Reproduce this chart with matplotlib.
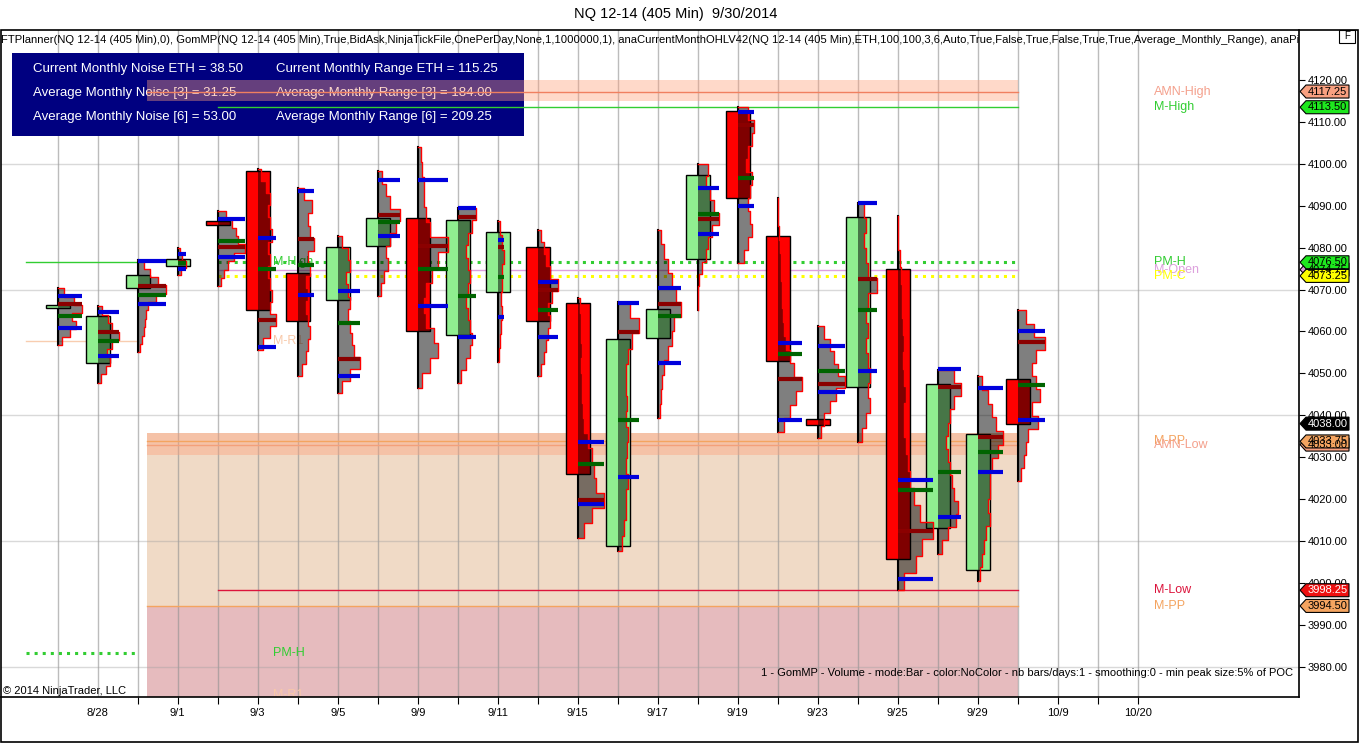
import numpy as np
import matplotlib
matplotlib.use('Agg')
import matplotlib.pyplot as plt
from matplotlib.patches import Rectangle, Polygon
from matplotlib.transforms import blended_transform_factory

plt.rcParams['font.family'] = ['Liberation Sans', 'DejaVu Sans']

# ---------------- data ----------------
bar_dates = ['8/27', '8/28', '8/29', '9/1', '9/2', '9/3', '9/4', '9/5', '9/8', '9/9',
             '9/10', '9/11', '9/12', '9/15', '9/16', '9/17', '9/18', '9/19', '9/22',
             '9/23', '9/24', '9/25', '9/26', '9/29', '9/30']
axis_labels = ['8/28', '9/1', '9/3', '9/5', '9/9', '9/11', '9/15', '9/17', '9/19',
               '9/23', '9/25', '9/29', '10/9', '10/20']

opens = [4065.50, 4052.50, 4070.25, 4075.50, 4086.25, 4098.25, 4074.00, 4067.50, 4080.50,
         4087.00, 4059.25, 4069.50, 4080.25, 4066.75, 4008.75, 4058.50, 4077.25, 4112.50,
         4082.75, 4039.00, 4046.75, 4075.00, 4013.00, 4003.00, 4048.75]
highs = [4070.25, 4066.00, 4077.00, 4080.00, 4088.75, 4098.75, 4094.25, 4082.75, 4098.25,
         4104.00, 4089.50, 4086.25, 4084.25, 4068.00, 4067.00, 4084.25, 4100.00, 4113.50,
         4091.75, 4061.25, 4090.75, 4087.50, 4050.75, 4049.25, 4065.00]
lows = [4056.75, 4047.75, 4055.00, 4073.50, 4070.75, 4055.50, 4049.25, 4045.25, 4068.50,
        4046.50, 4047.75, 4052.75, 4049.25, 4010.75, 4007.50, 4039.25, 4065.00, 4076.25,
        4036.00, 4034.50, 4033.50, 3998.25, 4007.00, 4000.50, 4024.25]
closes = [4066.00, 4063.75, 4073.50, 4077.25, 4085.50, 4065.00, 4062.50, 4080.25, 4087.00,
          4060.00, 4086.50, 4083.75, 4062.50, 4026.00, 4058.25, 4065.25, 4097.25, 4091.75,
          4053.00, 4037.75, 4087.25, 4005.75, 4047.50, 4035.50, 4038.00]

# GomMP marks: value area high / low (blue), POC (dark red), green mark
va_high = [4068.50, 4064.75, 4076.75, 4078.50, 4086.75, 4082.25, 4093.50, 4069.75, 4096.25,
           4096.25, 4089.50, 4081.75, 4071.75, 4033.50, 4066.75, 4070.25, 4094.25, 4112.25,
           4057.25, 4056.50, 4090.75, 4024.50, 4051.00, 4046.50, 4060.00]
va_low = [4060.75, 4054.25, 4066.50, 4075.00, 4077.75, 4056.25, 4068.75, 4049.25, 4082.75,
          4066.00, 4058.75, 4063.50, 4058.75, 4018.75, 4025.25, 4052.50, 4083.25, 4090.00,
          4038.75, 4045.50, 4050.50, 4001.00, 4015.75, 4026.50, 4038.75]
poc = [4066.50, 4059.75, 4070.75, 4076.50, 4080.25, 4062.75, 4082.00, 4053.50, 4087.75,
       4080.50, 4087.25, 4080.25, 4070.00, 4019.75, 4059.75, 4066.50, 4086.75, 4109.25,
       4048.75, 4047.50, 4072.50, 4012.50, 4046.75, 4034.75, 4057.50]
green_mark = [4063.75, 4057.75, 4068.75, 4076.25, 4081.50, 4075.00, 4075.75, 4062.00, 4086.00,
              4075.00, 4068.50, 4073.00, 4065.00, 4028.25, 4038.75, 4063.75, 4088.00, 4096.50,
              4054.50, 4050.50, 4065.00, 4022.25, 4026.50, 4031.25, 4047.25]

# volume per price band, high -> low (relative units)
profiles = [
    [6, 16, 24, 14, 18, 12, 4],
    [4, 10, 14, 21, 14, 9, 12, 8, 3],
    [6, 12, 20, 28, 18, 10, 8, 7, 6, 4, 2],
    [2, 4, 8, 3],
    [8, 14, 18, 20, 27, 16, 10, 6, 3],
    [3, 8, 12, 10, 12, 14, 10, 12, 10, 12, 14, 12, 18, 12, 5],
    [6, 14, 10, 12, 16, 10, 12, 8, 10, 8, 10, 12, 10, 8, 4],
    [4, 10, 12, 8, 10, 12, 10, 12, 14, 16, 22, 12, 4],
    [4, 8, 12, 22, 18, 12, 8, 10, 6, 3],
    [3, 4, 6, 6, 8, 12, 30, 20, 14, 8, 6, 8, 16, 20, 12, 4],
    [18, 14, 10, 8, 10, 12, 10, 8, 10, 12, 14, 12, 8, 3],
    [2, 4, 6, 4, 4, 3, 4, 3, 2, 1],
    [3, 6, 8, 12, 20, 14, 10, 12, 10, 8, 6, 3],
    [2, 3, 3, 4, 3, 4, 4, 5, 6, 10, 14, 16, 18, 26, 14, 6],
    [12, 21, 14, 10, 8, 8, 9, 8, 10, 9, 8, 10, 8, 8, 6, 4],
    [3, 6, 10, 14, 18, 23, 16, 14, 10, 6, 4, 3, 2],
    [10, 8, 12, 16, 21, 14, 10, 8, 4, 1, 0, 0],
    [10, 16, 14, 10, 8, 14, 12, 10, 12, 14, 10, 6],
    [0, 0, 1, 2, 3, 3, 4, 4, 5, 6, 8, 12, 16, 24, 18, 12, 6],
    [6, 12, 16, 20, 27, 18, 12, 6, 3],
    [6, 8, 6, 8, 10, 19, 10, 8, 10, 8, 10, 12, 10, 12, 8, 4],
    [0, 0, 2, 3, 4, 4, 5, 6, 5, 6, 8, 6, 6, 8, 10, 12, 16, 22, 35, 24, 18, 6],
    [16, 23, 16, 12, 10, 8, 10, 12, 14, 16, 20, 18, 10, 4],
    [4, 10, 14, 18, 25, 20, 14, 12, 12, 10, 12, 8, 6, 4, 2],
    [8, 16, 27, 18, 14, 18, 22, 14, 20, 10, 8, 6, 3],
]

# current month levels (anaCurrentMonthOHLV)
level_names = ['AMN-High', 'M-High', 'PM-H', 'M-Open', 'PM-C', 'M-PP', 'AMN-Low', 'M-Low', 'M-PP']
level_values = [4117.25, 4113.50, 4076.50, 4074.75, 4073.25, 4033.75, 4033.00, 3998.25, 3994.50]
amn_high_band = (4115.00, 4120.00)
amn_low_band = (4030.50, 4035.75)

# previous month levels (left part)
prev_names = ['M-High', 'M-R1', 'PM-H', 'M-R1']
prev_values = [4076.50, 4057.75, 3983.25, 3973.25]

noise_text = ['Current Monthly Noise ETH = 38.50', 'Average Monthly Noise [3] = 31.25',
              'Average Monthly Noise [6] = 53.00']
range_text = ['Current Monthly Range ETH = 115.25', 'Average Monthly Range [3] = 184.00',
              'Average Monthly Range [6] = 209.25']

header = ('FTPlanner(NQ 12-14 (405 Min),0), GomMP(NQ 12-14 (405 Min),True,BidAsk,NinjaTickFile,'
          'OnePerDay,None,1,1000000,1), anaCurrentMonthOHLV42(NQ 12-14 (405 Min),ETH,100,100,3,6,'
          'Auto,True,False,True,False,True,True,Average_Monthly_Range), anaPivots')

# ---------------- figure ----------------
W, H = 1360, 743
fig = plt.figure(figsize=(W / 100, H / 100), dpi=100)
ax = fig.add_axes([1 / W, (H - 697) / H, 1298 / W, (697 - 30) / H])
ax.set_xlim(-1.4175, 31.03)
ax.set_ylim(3972.77, 4131.93)
PX = 1 / 40.0          # one pixel in bar units
PY = 1 / 4.1907        # one pixel in price units


def fxy(x, y):
    return x / W, 1 - y / H


for s in ['top', 'left']:
    ax.spines[s].set_visible(False)
for s in ['bottom', 'right']:
    ax.spines[s].set_linewidth(1.2)

# outer frame
fig.add_artist(Rectangle(fxy(1, 742), 1357 / W, 712 / H, transform=fig.transFigure,
                         fill=False, ec='black', lw=1.2))
fig.text(0.497, 1 - 14 / H, 'NQ 12-14 (405 Min)  9/30/2014', ha='center', va='center', fontsize=10.5)
fig.add_artist(Rectangle(fxy(1339, 43), 16 / W, 13 / H, transform=fig.transFigure,
                         fill=False, ec='black', lw=0.8))
fig.text(1347 / W, 1 - 36 / H, 'F', ha='center', va='center', fontsize=7)

n = len(opens)
xs = np.arange(n)

# grid
for k in range(0, 28):
    ax.axvline(k, color='#909090', alpha=0.6, lw=1, zorder=1)
for p in [3980, 4010, 4040, 4070, 4100]:
    ax.axhline(p, color='#a0a0a0', alpha=0.4, lw=1, zorder=1)

# zones
z0, z1 = 2.22, 24
ax.add_patch(Rectangle((z0, 3960), z1 - z0, level_values[8] - 3960, fc='#E6BBBE', ec='none', zorder=0.5))
ax.add_patch(Rectangle((z0, level_values[8]), z1 - z0, amn_low_band[1] - level_values[8],
                       fc='#F0DAC6', ec='none', zorder=0.5))
for lo, hi in [amn_high_band, amn_low_band]:
    ax.add_patch(Rectangle((z0, lo), z1 - z0, hi - lo, fc='#FFA07A', alpha=0.4, ec='none', zorder=2))

# navy info box
ax.add_patch(Rectangle(fxy(12, 136), 512 / W, 83 / H, transform=fig.transFigure,
                       fc='#000080', ec='none', zorder=1.5))
for i in range(3):
    ax.text(33 / W, 1 - (69 + 24 * i) / H, noise_text[i], transform=fig.transFigure,
            color='white', fontsize=9.5, va='center', zorder=1.6)
    ax.text(276 / W, 1 - (69 + 24 * i) / H, range_text[i], transform=fig.transFigure,
            color='white', fontsize=9.5, va='center', zorder=1.6)

ax.text(1 / W, 1 - 40 / H, header, transform=fig.transFigure, fontsize=8.1, va='center',
        clip_on=True, zorder=2.5)

# level lines
starts = [z0, 4, 4, 4, 4, z0, z0, 4, z0]
lcolors = ['#F08060', '#32CD32', '#32CD32', '#DDA0DD', '#FFFF00', '#F4A460', '#F4A07A', '#DC143C', '#F4A460']
lstyles = ['-', '-', ':', '-', ':', '-', '-', '-', '-']
lwidths = [1, 1, 2.2, 1, 2.2, 1, 1, 1, 1]
for v, s0, c, ls, lw in zip(level_values, starts, lcolors, lstyles, lwidths):
    ax.plot([s0, z1], [v, v], color=c, ls=ls, lw=lw, zorder=2.2)

tcolors = ['#F4A08C', '#32CD32', '#32CD32', '#DDA0DD', '#FFFF00', '#F4A460', '#F4A08C', '#DC143C', '#F4A460']
for name, v, c in zip(level_names, level_values, tcolors):
    ax.text(27.4, v, name, color=c, fontsize=9, va='center', ha='left', zorder=2.3)

# previous month
ax.plot([-0.8, 2.0], [prev_values[0]] * 2, color='#32CD32', lw=1, zorder=2.2)
ax.plot([-0.8, 2.0], [prev_values[1]] * 2, color='#F8CDB0', lw=1, zorder=2.2)
ax.plot([-0.8, 2.0], [prev_values[2]] * 2, color='#32CD32', ls=':', lw=2.2, zorder=2.2)
pcolors = ['#32CD32', '#F8C8A8', '#32CD32', '#F8C8A8']
for name, v, c in zip(prev_names, prev_values, pcolors):
    ax.text(5.38, v, name, color=c, fontsize=9, va='center', ha='left', zorder=2.3, clip_on=True)

# candles + volume profiles
for k in xs:
    o, h, l, c = opens[k], highs[k], lows[k], closes[k]
    ax.plot([k, k], [l, h], color='black', lw=1.5, zorder=3)
    fc = '#90EE90' if c >= o else '#FF0000'
    ax.add_patch(Rectangle((k - 0.3, min(o, c)), 0.6, max(abs(c - o), 0.75), fc=fc, ec='black',
                           lw=1.0, zorder=4))
    vols = profiles[k]
    dy = (h - l) / len(vols)
    pts = [(k, h)]
    for i, vv in enumerate(vols):
        pts.append((k + vv * PX, h - i * dy))
        pts.append((k + vv * PX, h - (i + 1) * dy))
    pts.append((k, l))
    ax.add_patch(Polygon(pts, closed=True, fc='black', alpha=0.5, ec='none', zorder=5))
    px_, py_ = zip(*pts)
    ax.plot(px_, py_, color='#FF0000', lw=1, zorder=6)
    tl = max(vols) * PX
    for val, col in [(va_high[k], '#0000DD'), (va_low[k], '#0000DD'),
                     (poc[k], '#8B0000'), (green_mark[k], '#006400')]:
        ax.plot([k, k + tl], [val, val], color=col, lw=3, solid_capstyle='butt', zorder=7)

# price tags on right axis
trans = blended_transform_factory(ax.transAxes, ax.transData)
AW = 1298.0
tag_values = [4117.25, 4113.50, 4074.75, 4076.50, 4073.25, 4033.00, 4033.75, 4038.00, 3998.25, 3994.50]
tag_fc = ['#F8A080', '#1EE81E', '#DDA0DD', '#1EE81E', '#FFFF00', '#F8A080', '#F4A460', 'black', '#EE1111', '#F4A460']
tag_tc = ['black', 'black', 'black', 'black', 'black', 'black', 'black', 'white', 'white', 'black']
hh = 6.5 * PY
for v, fcol, tcol in zip(tag_values, tag_fc, tag_tc):
    xsP = [1 + 1 / AW, 1 + 7 / AW, 1 + 50 / AW, 1 + 50 / AW, 1 + 7 / AW]
    ysP = [v, v + hh, v + hh, v - hh, v - hh]
    ax.add_patch(Polygon(list(zip(xsP, ysP)), closed=True, transform=trans, fc=fcol,
                         ec='black', lw=0.8, clip_on=False, zorder=10))
    ax.text(1 + 28.5 / AW, v, '%.2f' % v, transform=trans, ha='center', va='center',
            fontsize=8, color=tcol, clip_on=False, zorder=11)

# axes ticks
ax.yaxis.tick_right()
ax.set_yticks(np.arange(3980, 4121, 10))
ax.set_yticklabels(['%.2f' % t for t in np.arange(3980, 4121, 10)])
ax.tick_params(axis='y', direction='out', length=4, labelsize=8, pad=2)
tick_pos = list(range(1, 28))
lab_pos = [1 + 2 * i for i in range(len(axis_labels))]
ax.set_xticks(tick_pos)
ax.set_xticklabels([axis_labels[lab_pos.index(t)] if t in lab_pos else '' for t in tick_pos])
ax.tick_params(axis='x', direction='out', length=5, labelsize=8, pad=3)
ax.xaxis.get_major_ticks()[0].tick1line.set_visible(False)

ax.text(3 / W, 1 - 691 / H, '\u00a9 2014 NinjaTrader, LLC', transform=fig.transFigure,
        fontsize=8, va='center', zorder=8)
ax.text(1293 / W, 1 - 673 / H,
        '1 - GomMP - Volume - mode:Bar - color:NoColor - nb bars/days:1 - smoothing:0 - min peak size:5% of POC',
        transform=fig.transFigure, fontsize=8, va='center', ha='right', zorder=8)

fig.savefig('out.png', dpi=100)
